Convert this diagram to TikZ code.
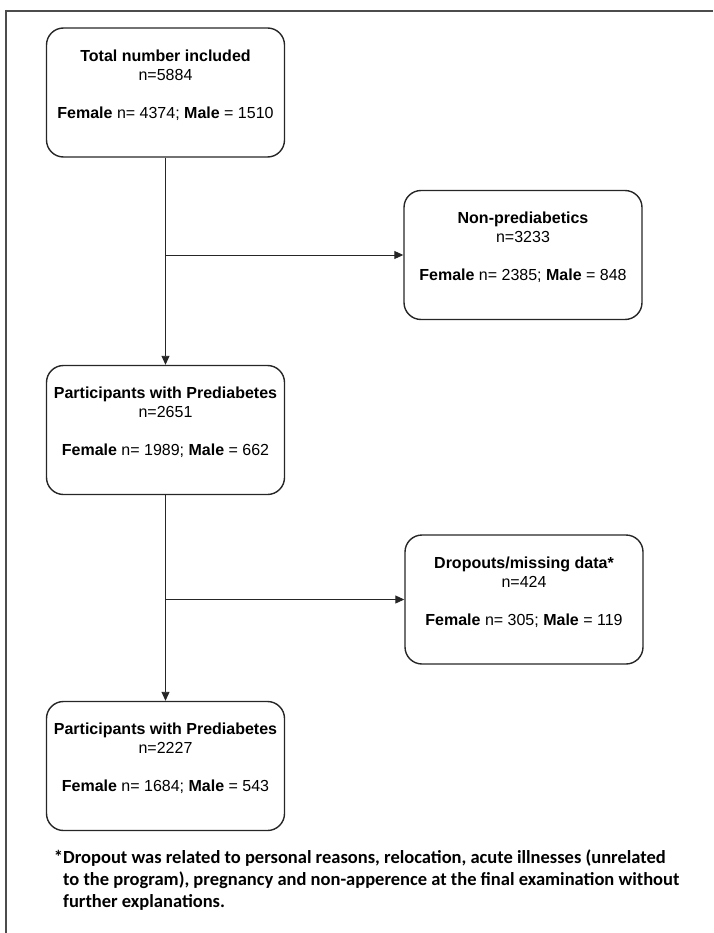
\documentclass[tikz,border=0pt]{standalone}
\usepackage{fontspec}
\setmainfont{Liberation Sans}
\newfontfamily\notefont{Carlito}
\usetikzlibrary{arrows.meta,positioning}
\tikzset{box/.style={draw=black!85,line width=1.4pt,rounded corners=17pt,align=center,minimum width=238pt,minimum height=129pt,text depth=17pt,inner sep=0pt,font=\fontsize{16}{19}\selectfont},arrow/.style={-{Triangle[length=9pt,width=8pt]},line width=0.9pt,draw=black!85},note/.style={align=left,inner sep=0pt,font=\notefont\bfseries\fontsize{18.5}{22}\selectfont}}

\begin{document}
\begin{tikzpicture}[x=1pt,y=-1pt]
\useasboundingbox (0,0) rectangle (713,933);
\draw[line width=1.5pt,black!70] (6,933) -- (6,11) -- (713,11);
\node[box] (total) at (165.5,92.5) {\textbf{Total number included}\\n=5884\\[19pt]\textbf{Female} n= 4374; \textbf{Male} = 1510};
\node[box] (nonpre) at (523,255) {\textbf{Non-prediabetics}\\n=3233\\[19pt]\textbf{Female} n= 2385; \textbf{Male} = 848};
\node[box] (prediab) at (165.5,430) {\textbf{Participants with Prediabetes}\\n=2651\\[19pt]\textbf{Female} n= 1989; \textbf{Male} = 662};
\node[box] (dropout) at (524,599.5) {\textbf{Dropouts/missing data*}\\n=424\\[19pt]\textbf{Female} n= 305; \textbf{Male} = 119};
\node[box] (final) at (165.5,766) {\textbf{Participants with Prediabetes}\\n=2227\\[19pt]\textbf{Female} n= 1684; \textbf{Male} = 543};
\coordinate (j1) at (total.south |- nonpre.west);
\coordinate (j2) at (prediab.south |- dropout.west);
\draw[arrow](total)--(prediab);\draw[arrow](j1)--(nonpre);
\draw[arrow](prediab)--(final);\draw[arrow](j2)--(dropout);
\node[note,anchor=north west] (foot) at (63,850) {\llap{*}Dropout was related to personal reasons, relocation, acute illnesses (unrelated\\to the program), pregnancy and non-apperence at the final examination without\\further explanations.};
\end{tikzpicture}
\end{document}
